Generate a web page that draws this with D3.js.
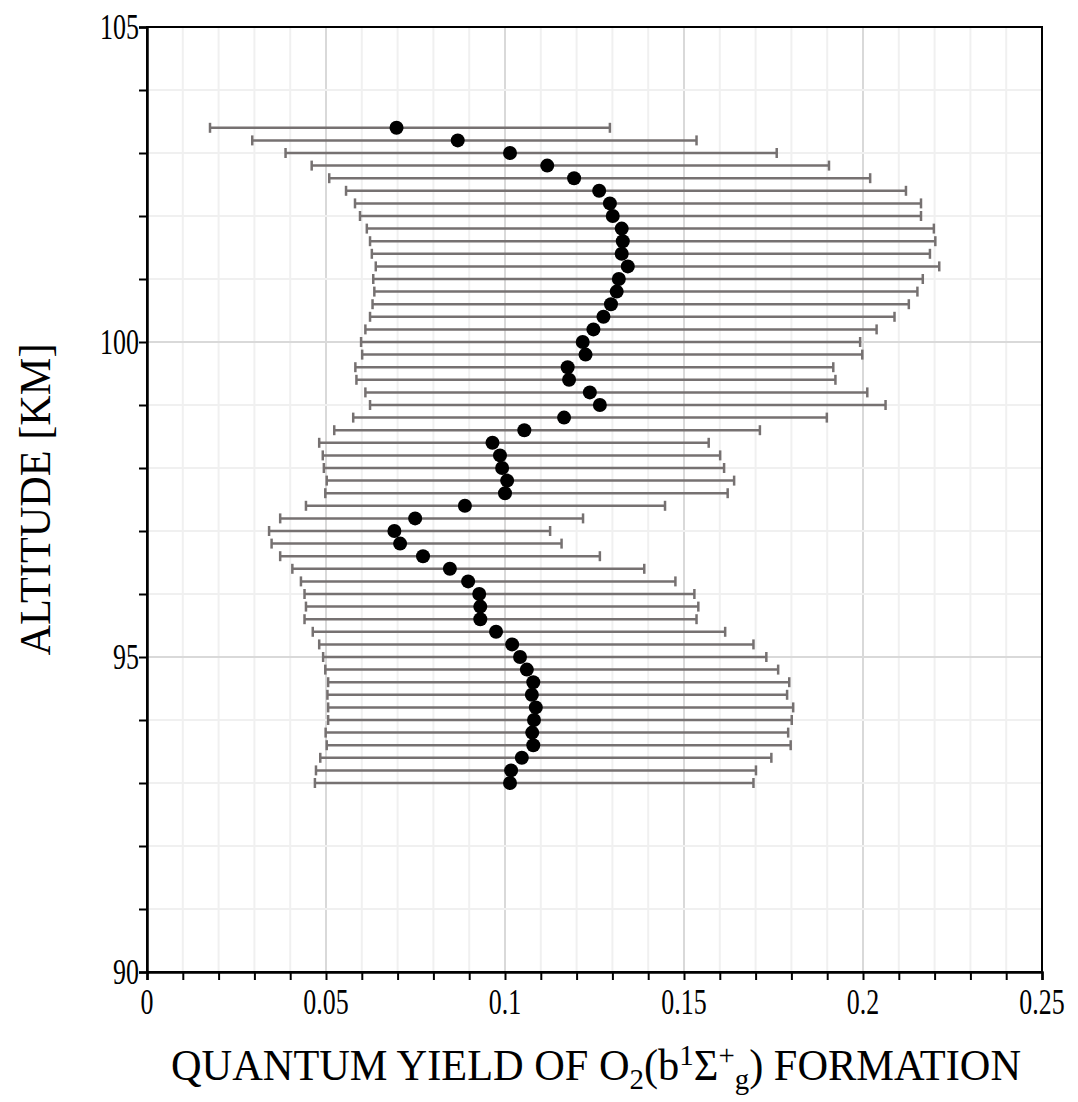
<!DOCTYPE html>
<html>
<head>
<meta charset="utf-8">
<script src="https://cdn.jsdelivr.net/npm/d3@7"></script>
<style>
  body { margin: 0; background: #fff; }
  text { font-family: "Liberation Serif", "Times New Roman", serif; }
</style>
</head>
<body>
<script>
// altitude levels (km), top to bottom
var altitudes = [103.4, 103.2, 103.0, 102.8, 102.6, 102.4, 102.2, 102.0, 101.8, 101.6,
                 101.4, 101.2, 101.0, 100.8, 100.6, 100.4, 100.2, 100.0, 99.8, 99.6,
                 99.4, 99.2, 99.0, 98.8, 98.6, 98.4, 98.2, 98.0, 97.8, 97.6,
                 97.4, 97.2, 97.0, 96.8, 96.6, 96.4, 96.2, 96.0, 95.8, 95.6,
                 95.4, 95.2, 95.0, 94.8, 94.6, 94.4, 94.2, 94.0, 93.8, 93.6,
                 93.4, 93.2, 93.0];
// quantum yield (dots)
var yieldValues = [0.0697, 0.0868, 0.1014, 0.1118, 0.1193, 0.1263, 0.1293, 0.1301, 0.1326, 0.1329,
                   0.1326, 0.1343, 0.1318, 0.1312, 0.1296, 0.1275, 0.1247, 0.1217, 0.1225, 0.1175,
                   0.1179, 0.1237, 0.1265, 0.1165, 0.1054, 0.0965, 0.0986, 0.0992, 0.1006, 0.1000,
                   0.0888, 0.0749, 0.0691, 0.0707, 0.0771, 0.0846, 0.0897, 0.0928, 0.0931, 0.0931,
                   0.0975, 0.1020, 0.1042, 0.1061, 0.1079, 0.1075, 0.1086, 0.1081, 0.1076, 0.1079,
                   0.1047, 0.1017, 0.1014];
// lower end of error bar
var lowerValues = [0.0176, 0.0294, 0.0387, 0.0460, 0.0509, 0.0556, 0.0581, 0.0595, 0.0614, 0.0623,
                   0.0628, 0.0639, 0.0632, 0.0635, 0.0630, 0.0623, 0.0610, 0.0598, 0.0601, 0.0582,
                   0.0585, 0.0610, 0.0623, 0.0576, 0.0523, 0.0481, 0.0491, 0.0494, 0.0502, 0.0498,
                   0.0444, 0.0372, 0.0341, 0.0348, 0.0372, 0.0406, 0.0430, 0.0440, 0.0444, 0.0440,
                   0.0463, 0.0481, 0.0492, 0.0498, 0.0506, 0.0504, 0.0506, 0.0506, 0.0499, 0.0502,
                   0.0484, 0.0472, 0.0469];
// upper end of error bar
var upperValues = [0.1293, 0.1535, 0.1759, 0.1905, 0.2020, 0.2120, 0.2162, 0.2162, 0.2198, 0.2202,
                   0.2187, 0.2213, 0.2167, 0.2152, 0.2128, 0.2088, 0.2038, 0.1992, 0.1998, 0.1917,
                   0.1923, 0.2012, 0.2063, 0.1899, 0.1712, 0.1569, 0.1601, 0.1612, 0.1640, 0.1622,
                   0.1447, 0.1218, 0.1126, 0.1158, 0.1265, 0.1389, 0.1476, 0.1529, 0.1540, 0.1535,
                   0.1615, 0.1694, 0.1730, 0.1763, 0.1794, 0.1788, 0.1805, 0.1801, 0.1791, 0.1798,
                   0.1744, 0.1701, 0.1694];

var xTickLabels = [0, 0.05, 0.1, 0.15, 0.2, 0.25];
var yTickLabels = [90, 95, 100, 105];

var width = 1078, height = 1102;
var margin = { top: 27, right: 36, bottom: 130, left: 147 };
var plotW = width - margin.left - margin.right,
    plotH = height - margin.top - margin.bottom;

var svg = d3.select("body").append("svg")
    .attr("width", width)
    .attr("height", height);

var g = svg.append("g")
    .attr("transform", "translate(" + margin.left + "," + margin.top + ")");

var x = d3.scaleLinear().domain([0, 0.25]).range([0, plotW]);
var y = d3.scaleLinear().domain([90, 105]).range([plotH, 0]);

var minorX = d3.range(0, 0.2501, 0.01),
    minorY = d3.range(90, 105.01, 1);

//grid, darker at the labelled steps
g.selectAll(".gx").data(minorX).enter().append("line")
    .attr("x1", function(d){ return x(d); })
    .attr("x2", function(d){ return x(d); })
    .attr("y1", 0).attr("y2", plotH)
    .attr("stroke", function(d){ return Math.abs(d * 20 - Math.round(d * 20)) < 1e-6 ? "#d9d9d9" : "#f0f0f0"; })
    .attr("stroke-width", 2);
g.selectAll(".gy").data(minorY).enter().append("line")
    .attr("y1", function(d){ return y(d); })
    .attr("y2", function(d){ return y(d); })
    .attr("x1", 0).attr("x2", plotW)
    .attr("stroke", function(d){ return d % 5 === 0 ? "#d9d9d9" : "#f0f0f0"; })
    .attr("stroke-width", 2);

//frame
g.append("rect")
    .attr("x", 0).attr("y", 0)
    .attr("width", plotW).attr("height", plotH)
    .attr("fill", "none")
    .attr("stroke", "#000")
    .attr("stroke-width", 2);

//axes with ticks at every minor step
var xAxis = g.append("g")
    .attr("transform", "translate(0," + plotH + ")")
    .call(d3.axisBottom(x).tickValues(minorX).tickSize(8).tickFormat(""));
var yAxis = g.append("g")
    .call(d3.axisLeft(y).tickValues(minorY).tickSize(8).tickFormat(""));
[xAxis, yAxis].forEach(function(a){
    a.select(".domain").attr("stroke", "#000").attr("stroke-width", 2.5);
    a.selectAll(".tick line").attr("stroke", "#000").attr("stroke-width", 2);
});

//tick labels (tall, narrow serif)
g.selectAll(".xl").data(xTickLabels).enter().append("text")
    .attr("transform", function(d){ return "translate(" + x(d) + "," + (plotH + 42) + ") scale(0.72,1)"; })
    .attr("text-anchor", "middle")
    .attr("font-size", 36)
    .text(function(d){ return d; });
g.selectAll(".yl").data(yTickLabels).enter().append("text")
    .attr("transform", function(d){ return "translate(-8," + (y(d) + 12) + ") scale(0.72,1)"; })
    .attr("text-anchor", "end")
    .attr("font-size", 36)
    .text(function(d){ return d; });

//error bars
var rows = altitudes.map(function(a, i){
    return { alt: a, v: yieldValues[i], lo: lowerValues[i], hi: upperValues[i] };
});
var barColor = "#767171";
var bars = g.selectAll(".err").data(rows).enter().append("g");
bars.append("line")
    .attr("x1", function(d){ return x(d.lo); })
    .attr("x2", function(d){ return x(d.hi); })
    .attr("y1", function(d){ return y(d.alt); })
    .attr("y2", function(d){ return y(d.alt); })
    .attr("stroke", barColor).attr("stroke-width", 2.5);
["lo", "hi"].forEach(function(k){
    bars.append("line")
        .attr("x1", function(d){ return x(d[k]); })
        .attr("x2", function(d){ return x(d[k]); })
        .attr("y1", function(d){ return y(d.alt) - 5; })
        .attr("y2", function(d){ return y(d.alt) + 5; })
        .attr("stroke", barColor).attr("stroke-width", 2.5);
});

//dots
g.selectAll(".dot").data(rows).enter().append("circle")
    .attr("cx", function(d){ return x(d.v); })
    .attr("cy", function(d){ return y(d.alt); })
    .attr("r", 7)
    .attr("fill", "#000");

//axis titles
svg.append("text")
    .attr("transform", "translate(50," + (margin.top + plotH / 2) + ") rotate(-90)")
    .attr("text-anchor", "middle")
    .attr("font-size", 44)
    .attr("textLength", 312)
    .attr("lengthAdjust", "spacingAndGlyphs")
    .text("ALTITUDE [KM]");

var xt = svg.append("text")
    .attr("x", 596)
    .attr("y", 1080)
    .attr("text-anchor", "middle")
    .attr("font-size", 44)
    .attr("textLength", 850)
    .attr("lengthAdjust", "spacingAndGlyphs");
xt.append("tspan").text("QUANTUM YIELD OF O");
xt.append("tspan").attr("font-size", 30).attr("dy", 9).text("2");
xt.append("tspan").attr("dy", -9).text("(b");
xt.append("tspan").attr("font-size", 30).attr("dy", -15).text("1");
xt.append("tspan").attr("dy", 15).text("Σ");
xt.append("tspan").attr("font-size", 30).attr("dy", -15).text("+");
xt.append("tspan").attr("font-size", 30).attr("dy", 24).text("g");
xt.append("tspan").attr("dy", -9).text(") FORMATION");
</script>
</body>
</html>
